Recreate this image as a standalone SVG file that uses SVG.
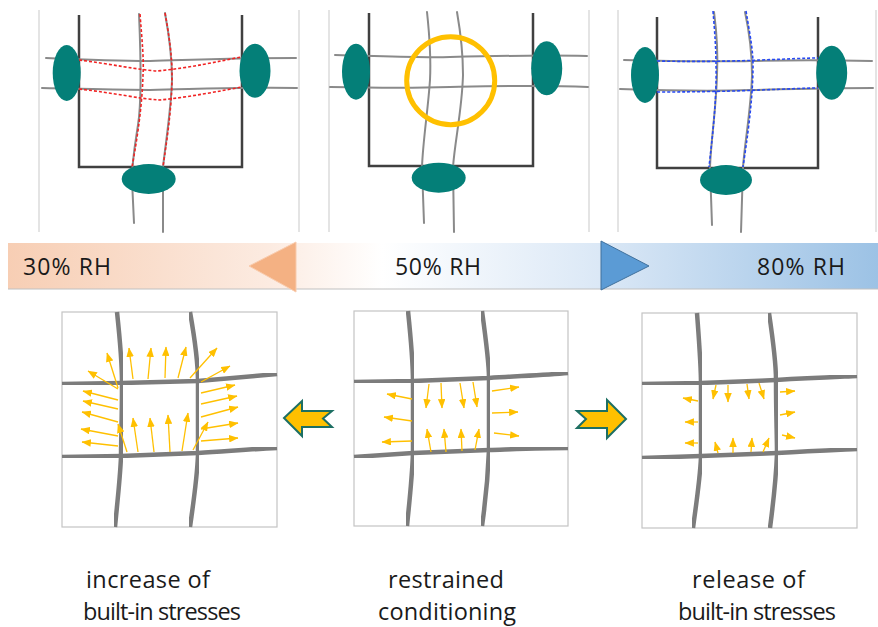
<svg xmlns="http://www.w3.org/2000/svg" width="878" height="627" viewBox="0 0 878 627">
  <defs>
    <style>
      .edge { stroke: #d2d2d2; stroke-width: 1.2; fill: none; }
      .frame { stroke: #404040; stroke-width: 2.5; fill: none; stroke-linejoin: miter; }
      .fib { stroke: #8a8a8a; stroke-width: 2; fill: none; stroke-linecap: round; }
      .knot { fill: #047f78; }
      .red { stroke: #f02424; stroke-width: 1.6; fill: none; stroke-dasharray: 3 2; }
      .blue { stroke: #2648f2; stroke-width: 1.6; fill: none; stroke-dasharray: 3 2; }
      .box { fill: #ffffff; stroke: #c4c4c4; stroke-width: 1.2; }
      .yarn { stroke: #7c7c7c; stroke-width: 4.5; fill: none; stroke-linecap: butt; filter: url(#soft); }
      .force line { stroke: #ffc000; stroke-width: 1.3; marker-end: url(#tip); }
      .lbl { font-family: "Open Sans", "Liberation Sans", sans-serif; font-size: 23.5px; fill: #1a1a1a; }
      .rh { font-family: "Open Sans", "Liberation Sans", sans-serif; font-size: 23px; fill: #1a1a1a; }
      .block { fill: #ffc000; stroke: #1d6f63; stroke-width: 2; stroke-linejoin: miter; }
    </style>
    <marker id="tip" viewBox="0 0 10 8" refX="9.5" refY="4" markerUnits="userSpaceOnUse" markerWidth="9.5" markerHeight="7.5" orient="auto">
      <path d="M0,0 L10,4 L0,8 Z" fill="#ffc000"/>
    </marker>
    <filter id="soft" x="-5%" y="-5%" width="110%" height="110%">
      <feGaussianBlur stdDeviation="0.6"/>
    </filter>
    <linearGradient id="rhBar" x1="8" y1="0" x2="878" y2="0" gradientUnits="userSpaceOnUse">
      <stop offset="0" stop-color="#f7ceb4"/>
      <stop offset="0.3" stop-color="#fcebe1"/>
      <stop offset="0.43" stop-color="#ffffff"/>
      <stop offset="0.68" stop-color="#dbe8f6"/>
      <stop offset="1" stop-color="#9cc2e5"/>
    </linearGradient>
  </defs>

  <rect width="878" height="627" fill="#ffffff"/>

  <!-- top left: shrinking at low humidity -->
  <g id="top-dry">
    <line class="edge" x1="39" y1="10" x2="39" y2="232"/>
    <line class="edge" x1="299" y1="10" x2="299" y2="232"/>
    <path class="frame" d="M79,15 V167 H242 V15"/>
    <path class="fib" d="M46,58 C90,60 120,61 150,61 C190,60 230,58 296,58"/>
    <path class="fib" d="M42,88 C90,89 120,90 150,90 C200,89 240,87 297,88"/>
    <path class="fib" d="M139,14 C141,60 142,100 138,125 C135,145 132,160 132,180 L134,223"/>
    <path class="fib" d="M165,13 C170,40 172,60 172,80 C171,110 166,140 163,167 L163,232"/>
    <path class="red" d="M79,60 C110,64 140,70 157,71 C190,68 220,61 241,57"/>
    <path class="red" d="M79,89 C115,93 140,99 160,100 C190,97 220,91 242,87"/>
    <path class="red" d="M140,14 C142,40 144,60 143,75 C142,110 136,145 132,167"/>
    <path class="red" d="M165,13 C169,35 172,55 172,75 C172,110 166,145 163,167"/>
    <ellipse class="knot" cx="66.7" cy="73" rx="14" ry="28"/>
    <ellipse class="knot" cx="255" cy="70.7" rx="15.5" ry="27"/>
    <ellipse class="knot" cx="148.7" cy="179" rx="27" ry="15"/>
  </g>

  <!-- top middle: reference state -->
  <g id="top-ref">
    <line class="edge" x1="329" y1="10" x2="329" y2="232"/>
    <line class="edge" x1="589" y1="10" x2="589" y2="232"/>
    <path class="frame" d="M369,13 V166 H533 V13"/>
    <path class="fib" d="M335,55 C380,56 420,58 450,57 C490,56 540,55 587,56"/>
    <path class="fib" d="M330,87 C380,88 420,88 450,87 C500,86 540,85 588,87"/>
    <path class="fib" d="M427,12 C430,40 431,60 430,80 C428,110 423,140 422,167 L424,223"/>
    <path class="fib" d="M457,12 C461,35 463,55 463,75 C462,110 455,140 453,167 L454,232"/>
    <circle cx="450.7" cy="80.7" r="44" fill="none" stroke="#ffc000" stroke-width="5"/>
    <ellipse class="knot" cx="356" cy="71.7" rx="14" ry="28"/>
    <ellipse class="knot" cx="546.7" cy="68.3" rx="15.5" ry="27"/>
    <ellipse class="knot" cx="438.7" cy="177.7" rx="27" ry="15"/>
  </g>

  <!-- top right: swelling at high humidity -->
  <g id="top-wet">
    <line class="edge" x1="618" y1="10" x2="618" y2="232"/>
    <line class="edge" x1="876" y1="10" x2="876" y2="232"/>
    <path class="frame" d="M657,17 V168 H818 V17"/>
    <path class="fib" d="M624,60 C680,61 720,62 750,61 C790,60 830,60 872,61"/>
    <path class="fib" d="M620,89 C680,91 720,91 750,90 C790,89 830,88 873,88"/>
    <path class="fib" d="M714,12 C717,35 718,55 717,75 C716,110 711,140 710,167 L712,225"/>
    <path class="fib" d="M745,12 C750,35 752,55 752,75 C751,110 745,140 743,167 L741,232"/>
    <path class="blue" d="M657,61 C700,62 740,61 760,60 C790,59 805,58 818,58"/>
    <path class="blue" d="M657,92 C700,92 740,91 760,90 C790,89 805,88 818,88"/>
    <path class="blue" d="M713,11 C715,35 716,50 716,65 C717,100 712,140 709,167"/>
    <path class="blue" d="M746,11 C750,35 753,50 753,65 C753,100 747,140 743,167"/>
    <ellipse class="knot" cx="645" cy="75" rx="14" ry="28"/>
    <ellipse class="knot" cx="831.7" cy="72.7" rx="15.5" ry="27"/>
    <ellipse class="knot" cx="726" cy="180" rx="26" ry="15"/>
  </g>

  <!-- relative humidity scale -->
  <g id="rh-scale">
    <rect x="8" y="243" width="870" height="46" fill="url(#rhBar)"/>
    <line x1="8" y1="289" x2="878" y2="289" stroke="#c0c0c0" stroke-width="1"/>
    <polygon points="249,266 296,242 296,292" fill="#f4b183" stroke="#f8cbad" stroke-width="1"/>
    <polygon points="601,241 649,266 601,290" fill="#5b9bd5" stroke="#41719c" stroke-width="1"/>
    <text class="rh" x="23" y="275" textLength="88" lengthAdjust="spacing">30% RH</text>
    <text class="rh" x="395" y="275" textLength="86" lengthAdjust="spacing">50% RH</text>
    <text class="rh" x="757" y="275" textLength="88" lengthAdjust="spacing">80% RH</text>
  </g>

  <!-- bottom left: stresses increase -->
  <g id="cell-increase">
    <rect class="box" x="62" y="312" width="215" height="215"/>
    <path class="yarn" d="M117,312 C120,340 122,365 122,383 C122,420 121,440 121,457 C120,480 117,505 115,527"/>
    <path class="yarn" d="M190,312 C195,340 198,365 198,382 C198,420 198,440 198,455 C197,480 193,505 190,527"/>
    <path class="yarn" d="M62,384 L122,383 L198,381 C230,378 255,376 277,374"/>
    <path class="yarn" d="M62,457 L121,456 L198,453 C230,451 255,449 277,448"/>
    <g class="force">
      <line x1="118" y1="388" x2="107" y2="353"/>
      <line x1="133" y1="379" x2="129" y2="348"/>
      <line x1="148" y1="379" x2="151" y2="348"/>
      <line x1="165" y1="378" x2="166" y2="347"/>
      <line x1="178" y1="378" x2="186" y2="347"/>
      <line x1="190" y1="378" x2="217" y2="348"/>
      <line x1="201" y1="382" x2="230" y2="366"/>
      <line x1="118" y1="389" x2="88" y2="371"/>
      <line x1="118" y1="400" x2="83" y2="391"/>
      <line x1="118" y1="409" x2="83" y2="401"/>
      <line x1="118" y1="422" x2="82" y2="412"/>
      <line x1="118" y1="436" x2="81" y2="429"/>
      <line x1="118" y1="446" x2="82" y2="442"/>
      <line x1="201" y1="393" x2="235" y2="385"/>
      <line x1="201" y1="404" x2="237" y2="396"/>
      <line x1="201" y1="417" x2="238" y2="407"/>
      <line x1="201" y1="429" x2="238" y2="423"/>
      <line x1="201" y1="441" x2="238" y2="438"/>
      <line x1="127" y1="452" x2="118" y2="424"/>
      <line x1="138" y1="452" x2="133" y2="418"/>
      <line x1="154" y1="452" x2="150" y2="418"/>
      <line x1="170" y1="452" x2="168" y2="415"/>
      <line x1="182" y1="451" x2="188" y2="413"/>
      <line x1="193" y1="450" x2="208" y2="422"/>
    </g>
    <text class="lbl" x="86" y="588" textLength="124" lengthAdjust="spacing">increase of</text>
    <text class="lbl" x="83" y="620" textLength="158" lengthAdjust="spacing">built-in stresses</text>
  </g>

  <!-- bottom middle: restrained -->
  <g id="cell-restrained">
    <rect class="box" x="354" y="311" width="214" height="215"/>
    <path class="yarn" d="M408,311 C411,340 413,365 413,382 C413,420 413,440 413,453 C412,480 409,505 407,526"/>
    <path class="yarn" d="M482,311 C486,340 489,362 489,378 C489,415 489,435 489,450 C488,475 485,505 482,526"/>
    <path class="yarn" d="M354,382 L413,381 L489,378 C520,376 545,375 568,373"/>
    <path class="yarn" d="M354,457 L413,453 L489,450 C520,449 545,448 568,448"/>
    <g class="force">
      <line x1="412" y1="399" x2="387" y2="394"/>
      <line x1="412" y1="421" x2="384" y2="417"/>
      <line x1="412" y1="441" x2="382" y2="442"/>
      <line x1="492" y1="391" x2="519" y2="387"/>
      <line x1="492" y1="413" x2="518" y2="412"/>
      <line x1="494" y1="433" x2="519" y2="436"/>
      <line x1="429" y1="384" x2="426" y2="408"/>
      <line x1="441" y1="383" x2="442" y2="408"/>
      <line x1="460" y1="383" x2="464" y2="408"/>
      <line x1="473" y1="382" x2="477" y2="407"/>
      <line x1="431" y1="452" x2="427" y2="429"/>
      <line x1="446" y1="452" x2="444" y2="429"/>
      <line x1="462" y1="451" x2="461" y2="429"/>
      <line x1="475" y1="450" x2="479" y2="429"/>
    </g>
    <text class="lbl" x="388" y="588" textLength="116" lengthAdjust="spacing">restrained</text>
    <text class="lbl" x="378" y="620" textLength="138" lengthAdjust="spacing">conditioning</text>
  </g>

  <!-- bottom right: stresses released -->
  <g id="cell-release">
    <rect class="box" x="642" y="313" width="215" height="215"/>
    <path class="yarn" d="M697,313 C699,340 701,365 701,384 C701,420 701,440 701,457 C700,480 696,505 693,528"/>
    <path class="yarn" d="M769,313 C773,340 776,362 776,380 C776,415 777,435 777,454 C776,480 773,505 770,528"/>
    <path class="yarn" d="M642,384 L701,383 L776,380 C810,378 835,377 857,376"/>
    <path class="yarn" d="M642,458 L701,456 L777,453 C810,451 835,450 857,449"/>
    <g class="force">
      <line x1="698" y1="401" x2="683" y2="398"/>
      <line x1="698" y1="422" x2="685" y2="422"/>
      <line x1="698" y1="443" x2="685" y2="443"/>
      <line x1="780" y1="392" x2="795" y2="391"/>
      <line x1="780" y1="415" x2="795" y2="412"/>
      <line x1="782" y1="435" x2="795" y2="438"/>
      <line x1="716" y1="385" x2="713" y2="399"/>
      <line x1="728" y1="385" x2="728" y2="402"/>
      <line x1="747" y1="384" x2="749" y2="399"/>
      <line x1="759" y1="383" x2="764" y2="399"/>
      <line x1="718" y1="453" x2="715" y2="442"/>
      <line x1="733" y1="453" x2="733" y2="438"/>
      <line x1="751" y1="452" x2="752" y2="438"/>
      <line x1="763" y1="452" x2="769" y2="438"/>
    </g>
    <text class="lbl" x="692" y="588" textLength="113" lengthAdjust="spacing">release of</text>
    <text class="lbl" x="678" y="620" textLength="158" lengthAdjust="spacing">built-in stresses</text>
  </g>

  <!-- block arrows between the cells -->
  <g id="connectors">
    <polygon class="block" points="284,418 302,401 302,411 332,411 323,418.5 332,427 302,427 302,436"/>
    <polygon class="block" points="626,419 607,400 607,411 577,411 586,419 577,428 607,428 607,438"/>
  </g>
</svg>
